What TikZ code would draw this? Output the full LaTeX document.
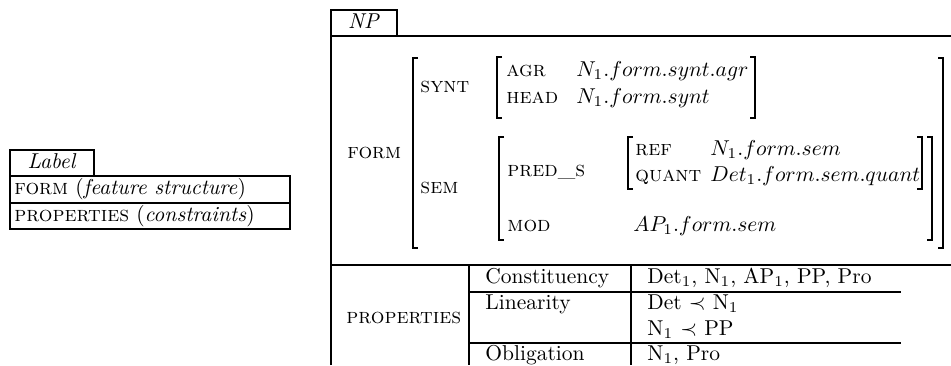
\documentclass[tikz,border=0pt]{standalone}
\newcommand\lbrk[3]{\draw[brk] ({#1+5},#2) -- (#1,#2) -- (#1,#3) -- ({#1+5},#3);}
\newcommand\rbrk[3]{\draw[brk] ({#1-5},#2) -- (#1,#2) -- (#1,#3) -- ({#1-5},#3);}
\begin{document}
\begin{tikzpicture}[x=0.465pt,y=-0.465pt,
  t/.style={inner sep=0pt,text height=7pt,text depth=2pt,anchor=west},
  c/.style={inner sep=0pt,text height=7pt,text depth=2pt},
  brk/.style={line width=0.7pt},
  rule/.style={line width=0.5pt}]
\useasboundingbox (0,0) rectangle (951,365);
% legend box
\draw[rule] (10,150) rectangle (94,176);
\draw[rule] (10,176) rectangle (290,229);
\draw[rule] (10,203) -- (290,203);
\node[c] (lbl) at (52,163) {\textit{Label}};
\node[t] (lform) at (14,189) {\textsc{form} (\textit{feature structure})};
\node[t] (lprop) at (14,216) {\textsc{properties} (\textit{constraints})};
% NP box
\draw[rule] (331,365) -- (331,10) -- (397,10) -- (397,36);
\draw[rule] (331,36) -- (951,36);
\node[c] (np) at (364,23) {\textit{NP}};
\node[t] (form) at (347,153) {\textsc{form}};
\lbrk{413}{58}{248}
\rbrk{943}{58}{248}
\node[t] (synt) at (420,87) {\textsc{synt}};
\lbrk{497}{57}{118}
\rbrk{755}{57}{118}
\node[t] (agr) at (506,71) {\textsc{agr}};
\node[t] (head) at (506,98) {\textsc{head}};
\node[t] (agrv) at (576,71) {$N_1.form.synt.agr$};
\node[t] (headv) at (576,98) {$N_1.form.synt$};
\node[t] (sem) at (420,188) {\textsc{sem}};
\lbrk{499}{137}{240}
\rbrk{932}{137}{240}
\node[t] (preds) at (507,171) {\textsc{pred\_s}};
\lbrk{628}{137}{189}
\rbrk{922}{137}{189}
\node[t] (ref) at (635,150) {\textsc{ref}};
\node[t] (quant) at (635,176) {\textsc{quant}};
\node[t] (refv) at (710,150) {$N_1.form.sem$};
\node[t] (quantv) at (710,176) {$Det_1.form.sem.quant$};
\node[t] (mod) at (507,226) {\textsc{mod}};
\node[t] (modv) at (633,226) {$AP_1.form.sem$};
% properties
\draw[rule] (331,265) -- (951,265);
\draw[rule] (469,265) -- (469,365);
\draw[rule] (631,265) -- (631,365);
\draw[rule] (469,292) -- (901,292);
\draw[rule] (469,343) -- (901,343);
\node[t] (props) at (346,318) {\textsc{properties}};
\node[t] (const) at (485,278) {Constituency};
\node[t] (constv) at (647,278) {Det$_1$, N$_1$, AP$_1$, PP, Pro};
\node[t] (lin) at (485,304) {Linearity};
\node[t] (lin1) at (647,304) {Det $\prec$ N$_1$};
\node[t] (lin2) at (647,330) {N$_1$ $\prec$ PP};
\node[t] (obl) at (485,355) {Obligation};
\node[t] (oblv) at (647,355) {N$_1$, Pro};
\end{tikzpicture}
\end{document}
